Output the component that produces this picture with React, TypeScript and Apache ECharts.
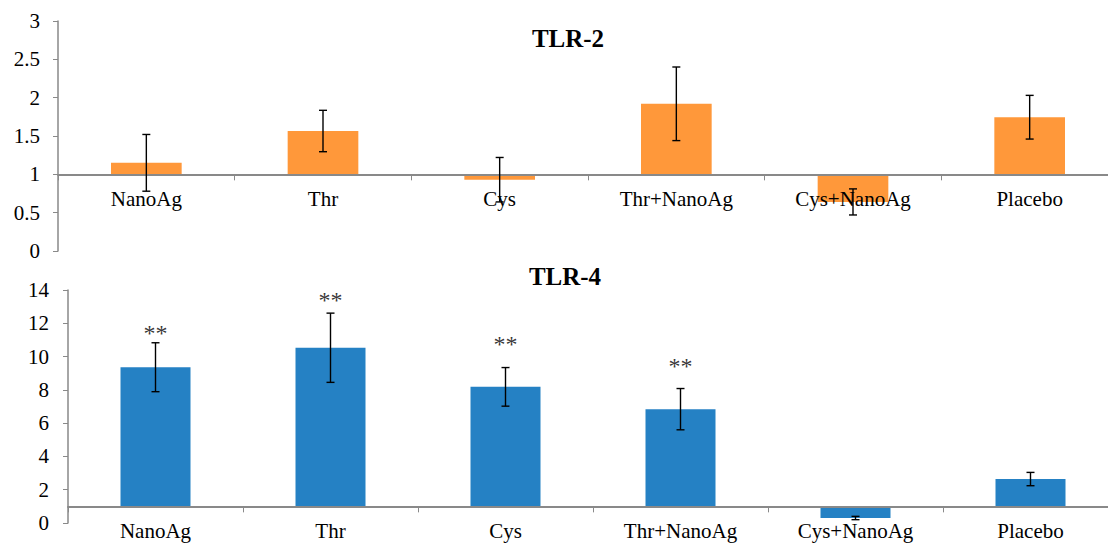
import React, { useEffect, useRef } from "react";
import * as echarts from "echarts";

const categories = ["NanoAg", "Thr", "Cys", "Thr+NanoAg", "Cys+NanoAg", "Placebo"];

const tlr2Values = [1.15, 1.565, 0.93, 1.92, 0.64, 1.745];
const tlr2Errors = [0.37, 0.27, 0.29, 0.48, 0.17, 0.285];

const tlr4Values = [9.36, 10.53, 8.18, 6.84, 0.3, 2.64];
const tlr4Errors = [1.47, 2.08, 1.16, 1.24, 0.1, 0.4];
const tlr4Marks = ["**", "**", "**", "**", "", ""];
const tlr4MarkY = [11.56, 13.5, 10.9, 9.56, null, null];

const baseline = 1;
const tlr2Max = 3;
const tlr2Interval = 0.5;
const tlr4Max = 14;
const tlr4Interval = 2;

const FONT = "Liberation Serif";
const AXIS_GRAY = "#898989";

const TOP_H = 230;
const BOT_H = 233;

export default function App() {
  const ref = useRef<HTMLDivElement>(null);

  useEffect(() => {
    if (!ref.current) return;
    const chart = echarts.init(ref.current, undefined, { renderer: "svg" });

    const errRender = (params: any, api: any) => {
      const x = api.value(0);
      const v = api.value(1);
      const e = api.value(2);
      const top = api.coord([x, v + e]);
      const bot = api.coord([x, v - e]);
      const w = 4;
      const style = { stroke: "#000", lineWidth: 1.4 };
      return {
        type: "group",
        children: [
          { type: "line", shape: { x1: top[0], y1: top[1], x2: bot[0], y2: bot[1] }, style },
          { type: "line", shape: { x1: top[0] - w, y1: top[1], x2: top[0] + w, y2: top[1] }, style },
          { type: "line", shape: { x1: bot[0] - w, y1: bot[1], x2: bot[0] + w, y2: bot[1] }, style },
        ],
      };
    };

    const xAxisCommon = (grid: number, offset: number) => ({
      type: "category",
      gridIndex: grid,
      data: categories,
      position: "bottom",
      offset,
      z: 3,
      axisLine: {
        onZero: false,
        lineStyle: { color: AXIS_GRAY, width: 2 },
      },
      axisTick: { show: true, length: 6, lineStyle: { color: AXIS_GRAY, width: 1 } },
      axisLabel: { color: "#000", fontFamily: FONT, fontSize: 21, margin: 14, interval: 0 },
    });

    const yVisible = (grid: number, max: number, interval: number, margin: number) => ({
      type: "value",
      gridIndex: grid,
      min: 0,
      max,
      interval,
      axisLine: { show: true, lineStyle: { color: AXIS_GRAY, width: 1.5 } },
      axisTick: { show: true, length: 5, lineStyle: { color: AXIS_GRAY, width: 1 } },
      splitLine: { show: false },
      axisLabel: { color: "#000", fontFamily: FONT, fontSize: 21, margin },
    });

    const yHidden = (grid: number, max: number) => ({
      type: "value",
      gridIndex: grid,
      min: 0 - baseline,
      max: max - baseline,
      show: false,
      splitLine: { show: false },
    });

    const option: any = {
      animation: false,
      backgroundColor: "#fff",
      grid: [
        { left: 58, top: 21, right: 0, height: TOP_H },
        { left: 68, top: 290, right: 0, height: BOT_H },
      ],
      xAxis: [
        xAxisCommon(0, -(TOP_H * baseline) / tlr2Max),
        xAxisCommon(1, -(BOT_H * baseline) / tlr4Max),
      ],
      yAxis: [
        yVisible(0, tlr2Max, tlr2Interval, 18),
        yHidden(0, tlr2Max),
        yVisible(1, tlr4Max, tlr4Interval, 19),
        yHidden(1, tlr4Max),
      ],
      graphic: [
        {
          type: "text",
          x: 568,
          y: 38,
          style: {
            text: "TLR-2",
            align: "center",
            verticalAlign: "middle",
            fontFamily: FONT,
            fontWeight: "bold",
            fontSize: 25,
            fill: "#000",
          },
        },
        {
          type: "text",
          x: 565,
          y: 276,
          style: {
            text: "TLR-4",
            align: "center",
            verticalAlign: "middle",
            fontFamily: FONT,
            fontWeight: "bold",
            fontSize: 25,
            fill: "#000",
          },
        },
      ],
      series: [
        {
          type: "bar",
          xAxisIndex: 0,
          yAxisIndex: 1,
          barWidth: "40%",
          z: 2,
          itemStyle: { color: "#FF983A" },
          data: tlr2Values.map((v) => +(v - baseline).toFixed(4)),
        },
        {
          type: "custom",
          xAxisIndex: 0,
          yAxisIndex: 0,
          z: 4,
          renderItem: errRender,
          encode: { x: 0, y: 1 },
          data: tlr2Values.map((v, i) => [i, v, tlr2Errors[i]]),
        },
        {
          type: "bar",
          xAxisIndex: 1,
          yAxisIndex: 3,
          barWidth: "40%",
          z: 2,
          itemStyle: { color: "#2581C4" },
          data: tlr4Values.map((v) => +(v - baseline).toFixed(4)),
        },
        {
          type: "custom",
          xAxisIndex: 1,
          yAxisIndex: 2,
          z: 4,
          renderItem: errRender,
          encode: { x: 0, y: 1 },
          data: tlr4Values.map((v, i) => [i, v, tlr4Errors[i]]),
        },
        {
          type: "scatter",
          xAxisIndex: 1,
          yAxisIndex: 2,
          symbolSize: 0,
          z: 4,
          label: {
            show: true,
            position: "inside",
            offset: [0, 2],
            color: "#000",
            fontFamily: FONT,
            fontSize: 24,
            formatter: (p: any) => tlr4Marks[p.dataIndex],
          },
          data: tlr4MarkY
            .map((y, i) => (y == null ? null : [i, y]))
            .filter((d) => d != null),
        },
      ],
    };

    chart.setOption(option);
    return () => chart.dispose();
  }, []);

  return (
    <div
      style={{
        position: "absolute",
        left: 0,
        top: 0,
        width: 1108,
        height: 543,
        overflow: "hidden",
        background: "#fff",
      }}
    >
      <div ref={ref} style={{ width: 1118, height: 543 }} />
    </div>
  );
}
